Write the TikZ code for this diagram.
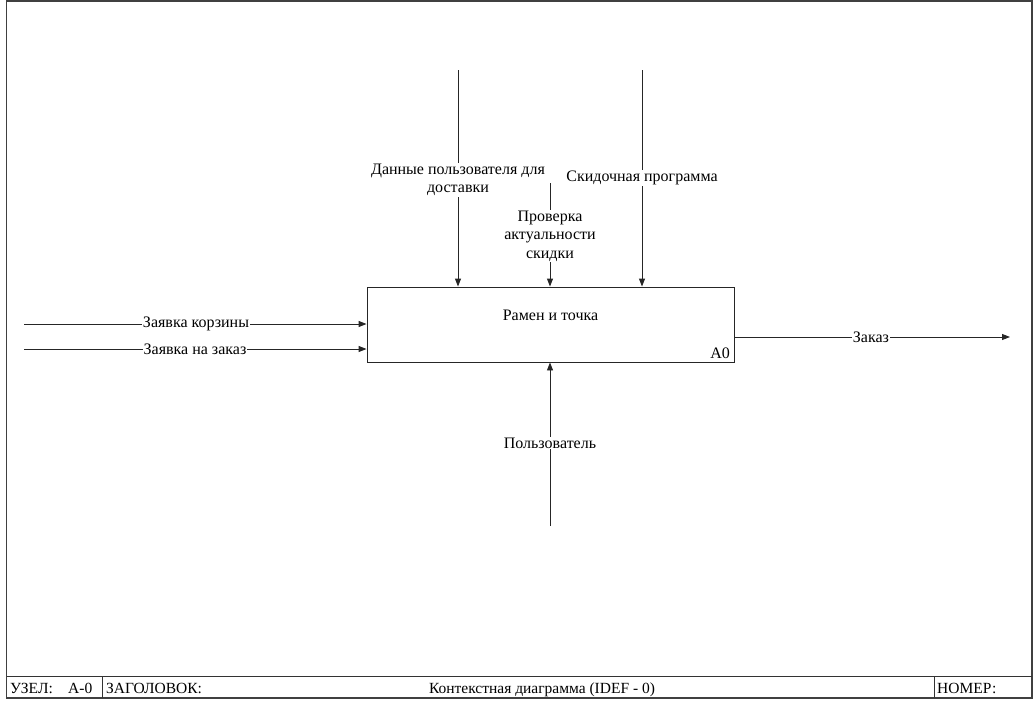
\documentclass[tikz,border=0pt]{standalone}
\usepackage{fontspec}
\setmainfont{Liberation Serif}
\usetikzlibrary{arrows.meta}
\begin{document}
\begin{tikzpicture}[x=1pt,y=-1pt,
  frameline/.style={draw=black!75, line width=1.6pt},
  barline/.style={draw=black!80, line width=1pt},
  flow/.style={draw=black!85, line width=0.9pt, -{Triangle[length=8pt,width=6pt]}},
  lbl/.style={fill=white, inner sep=1pt, align=center, font=\fontsize{16}{18.5}\selectfont},
  bartext/.style={anchor=base west, inner sep=0pt, font=\fontsize{15.5}{18}\selectfont},
  actbox/.style={draw=black!85, line width=0.9pt, minimum width=367pt, minimum height=75pt, inner sep=0pt}]
  \useasboundingbox (0,0) rectangle (1034,704);
  % outer frame and title bar
  \draw[frameline] (6.5,1) rectangle (1032,698);
  \draw[barline] (6.5,676) -- (1032,676);
  \draw[barline] (102,676) -- (102,698);
  \draw[barline] (934,676) -- (934,698);
  \node[bartext] (uzel) at (10,693) {УЗЕЛ:};
  \node[bartext] (node) at (68,693) {A-0};
  \node[bartext] (zag) at (106,693) {ЗАГОЛОВОК:};
  \node[anchor=base, inner sep=0pt, font=\fontsize{15.5}{18}\selectfont] (title) at (542,693) {Контекстная диаграмма (IDEF - 0)};
  \node[bartext] (nomer) at (937,693) {НОМЕР:};
  % activity box
  \node[actbox] (box) at (550.5,324.5) {};
  \node[lbl, fill=none] (boxname) at (550.5,315) {Рамен и точка};
  \node[anchor=base east, inner sep=0pt, font=\fontsize{16}{18}\selectfont] (boxnum) at (730,358) {A0};
  % arrow end points
  \coordinate (c1) at (458,70);
  \coordinate (c2) at (550,183);
  \coordinate (c3) at (642,70);
  \coordinate (m1) at (550,526);
  \coordinate (i1) at (24,324);
  \coordinate (i2) at (24,349);
  \coordinate (o1) at (1010,337);
  % controls
  \draw[flow] (c1) -- (c1 |- box.north);
  \draw[flow] (c2) -- (c2 |- box.north);
  \draw[flow] (c3) -- (c3 |- box.north);
  % mechanism
  \draw[flow] (m1) -- (m1 |- box.south);
  % inputs
  \draw[flow] (i1) -- (i1 -| box.west);
  \draw[flow] (i2) -- (i2 -| box.west);
  % output
  \draw[flow] (o1 -| box.east) -- (o1);
  % arrow labels
  \node[lbl] (l1) at (458,180) {Данные пользователя для\\доставки};
  \node[lbl] (l2) at (642,178) {Скидочная программа};
  \node[lbl] (l3) at (550,236) {Проверка\\актуальности\\скидки};
  \node[lbl] (l4) at (550,443) {Пользователь};
  \node[lbl] (l5) at (196,324) {Заявка корзины};
  \node[lbl] (l6) at (195,349) {Заявка на заказ};
  \node[lbl] (l7) at (871,337) {Заказ};
\end{tikzpicture}
\end{document}
